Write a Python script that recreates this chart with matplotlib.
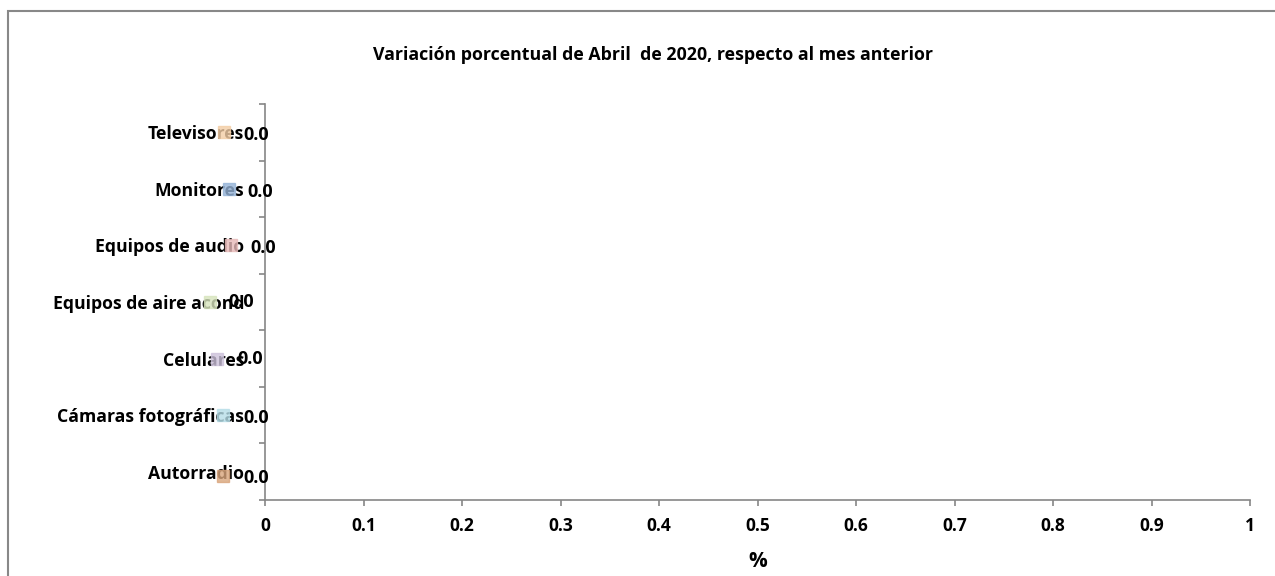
import matplotlib.pyplot as plt
from matplotlib.patches import Rectangle
import matplotlib.transforms as mtransforms

# data (bottom to top, as the bars are drawn)
categorias = ["Autorradio", "Cámaras fotográficas", "Celulares",
              "Equipos de aire acond", "Equipos de audio", "Monitores", "Televisores"]
variacion = [0.0, 0.0, 0.0, 0.0, 0.0, 0.0, 0.0]
colores = ["#D9A57C", "#B7DEE8", "#CCC1DA", "#D7E4BD", "#E6B9B8", "#95B3D7", "#F3CDA5"]

# label placement tweaks (pixels relative to the bar end)
key_dx = [-42, -42, -48, -55, -34, -36, -41]
key_dy = [-4, 0, 0, 0, 0, 0, 0]
txt_dx = [-22, -22, -28, -37, -15, -18, -22]
txt_dy = [-6, -3, 0, 0, -3, -3, -3]

plt.rcParams['font.family'] = ['Open Sans', 'DejaVu Sans']

fig = plt.figure(figsize=(12.75, 5.76), dpi=100)
ax = fig.add_axes([265/1275, 1-500/576, 985/1275, (500-104)/576])

y = list(range(len(categorias)))
ax.barh(y, variacion, height=0.6, color=colores)

ax.set_xlim(0, 1)
ax.set_ylim(-0.5, len(categorias)-0.5)
ax.set_xticks([i/10 for i in range(11)])
ax.set_xticklabels(["0"] + ["0.%d" % i for i in range(1, 10)] + ["1"],
                   fontsize=12.5, fontweight="bold")
ax.set_yticks([i - 0.5 for i in range(len(categorias)+1)])
ax.set_yticklabels([])
ax.set_yticks(y, minor=True)
ax.set_yticklabels(categorias, minor=True, fontsize=12.7, fontweight="bold")
ax.tick_params(axis="y", which="minor", length=0, pad=15)
ax.tick_params(axis="y", which="major", length=4, color="#868686", width=1.2)
ax.tick_params(axis="x", length=4, color="#868686", width=1.2, pad=8)

for s in ["top", "right"]:
    ax.spines[s].set_visible(False)
for s in ["left", "bottom"]:
    ax.spines[s].set_color("#868686")
    ax.spines[s].set_linewidth(1.2)

# data labels with small colour keys
for i, v in enumerate(variacion):
    tr = mtransforms.offset_copy(ax.transData, fig=fig, x=key_dx[i]*0.72,
                                 y=key_dy[i]*0.72, units="points")
    ax.plot([v], [i], marker="s", markersize=8, color=colores[i], alpha=0.8,
            transform=tr, clip_on=False, zorder=3)
    ax.annotate("%.1f" % v, xy=(v, i), xytext=(txt_dx[i]*0.72, txt_dy[i]*0.72),
                textcoords="offset points", ha="left", va="center",
                fontsize=13, fontweight="bold", annotation_clip=False, zorder=4)

ax.set_xlabel("%", fontsize=15, fontweight="bold", labelpad=12)
fig.text(653/1275, 1-55/576, "Variación porcentual de Abril  de 2020, respecto al mes anterior",
         ha="center", va="center", fontsize=12.8, fontweight="bold")

# chart frame
fig.patches.append(Rectangle((8/1275, -0.05), 1.1, 1-11/576+0.05, transform=fig.transFigure,
                             fill=False, edgecolor="#888888", linewidth=1.5))

plt.savefig("out.png", dpi=100)
